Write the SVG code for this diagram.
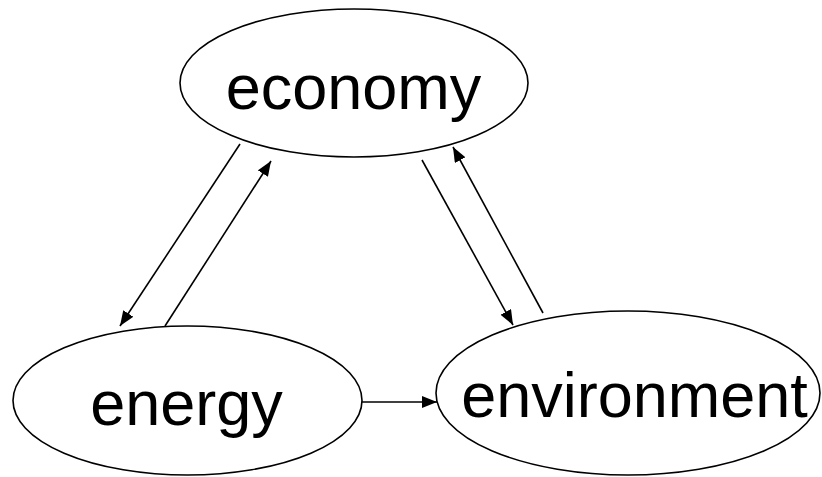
<svg xmlns="http://www.w3.org/2000/svg" width="822" height="477" viewBox="0 0 822 477">
<defs>
<style>
.node ellipse{fill:#fff;stroke:#000;stroke-width:1.6}
.node text{font-family:"Liberation Sans",Arial,sans-serif;font-size:63px;fill:#000;text-anchor:middle}
.edges line{stroke:#000;stroke-width:1.6;marker-end:url(#arr)}
</style>
<marker id="arr" markerUnits="userSpaceOnUse" markerWidth="16" markerHeight="13" refX="15" refY="6" orient="auto" viewBox="0 0 16 13">
<path d="M0,0 L15,6 L0,12 z" fill="#000"/>
</marker>
</defs>
<rect width="822" height="477" fill="#fff"/>
<g id="economy" class="node">
<ellipse cx="354" cy="83" rx="174" ry="74"/>
<text x="353.5" y="109">economy</text>
</g>
<g id="energy" class="node">
<ellipse cx="187.5" cy="400.5" rx="174.5" ry="74.5"/>
<text x="186.5" y="425">energy</text>
</g>
<g id="environment" class="node">
<ellipse cx="628" cy="393" rx="192" ry="82"/>
<text x="634.5" y="417">environment</text>
</g>
<g id="connectors" class="edges">
<line x1="240" y1="144" x2="120" y2="326"/>
<line x1="165" y1="326" x2="271" y2="161"/>
<line x1="422" y1="160" x2="513" y2="325"/>
<line x1="543" y1="313" x2="453" y2="147"/>
<line x1="362" y1="402" x2="437" y2="402"/>
</g>
</svg>
